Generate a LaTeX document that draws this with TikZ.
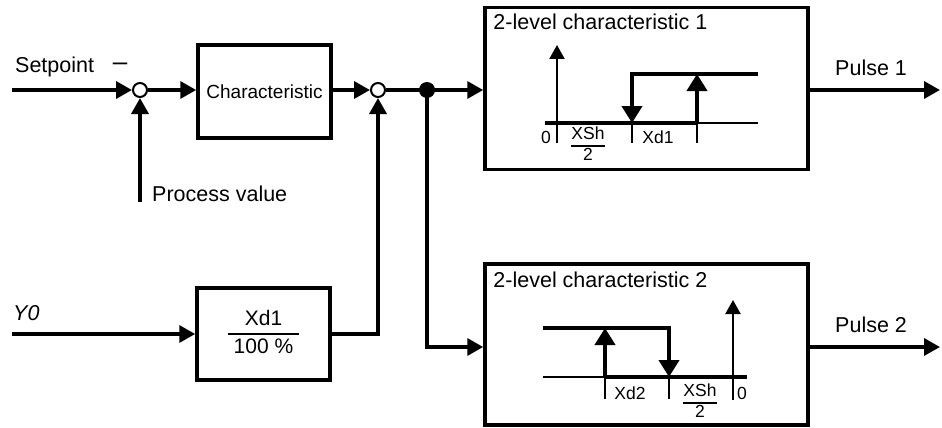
\documentclass[tikz,border=0pt]{standalone}
\usepackage{fontspec}
\setmainfont{Liberation Sans}
\usetikzlibrary{positioning, arrows.meta, calc}
\setlength{\arrayrulewidth}{1.8pt}
\newcommand{\frc}[3][0pt]{\begin{tabular}{@{\hspace{#1}}c@{\hspace{#1}}}#2\\\hline #3\end{tabular}}

\begin{document}
\begin{tikzpicture}[x=1pt, y=-1pt,
    every node/.style={font=\fontsize{21.5}{25}\selectfont, inner sep=0pt},
    blk/.style={draw, line width=3.5pt, minimum width=133pt, minimum height=93pt, align=center, font=\fontsize{19}{23}\selectfont},
    lvl/.style={draw, line width=3.5pt, minimum width=323pt, minimum height=162pt},
    sum/.style={draw, circle, line width=2pt, fill=white, minimum size=14pt},
    dot/.style={circle, fill, minimum size=16pt},
    ttl/.style={anchor=base west, font=\fontsize{21.5}{25}\selectfont},
    lbl/.style={font=\fontsize{17.5}{20}\selectfont},
    ln/.style={line width=3.5pt, -{Triangle[length=16pt, width=17pt]}},
    ax/.style={line width=2.2pt},
    hi/.style={line width=4pt},
    tip/.style={-{Triangle[length=14pt, width=15pt]}},
    bigtip/.style={-{Triangle[length=17pt, width=20pt]}}]
  \useasboundingbox (0,0) rectangle (942,428);

  % inputs and outputs
  \coordinate (sp) at (12,90);
  \coordinate (pv) at (140,202);
  \coordinate (y0) at (12,334);
  \coordinate (p1) at (940,90);
  \coordinate (p2) at (940,347);

  % blocks
  \node[sum] (s1) at (140,90) {};
  \node[blk] (ch) at (264.5,91.5) {Characteristic};
  \node[sum] (s2) at (378,90) {};
  \node[dot] (br) at (427,90) {};
  \node[blk, minimum height=92pt, font=\fontsize{21}{26}\selectfont] (gain) at (263.5,334) {\frc[6pt]{Xd1}{100 \%}};
  \node[lvl] (lv1) at (646.5,88.5) {};
  \node[lvl, minimum height=161pt] (lv2) at (646.5,344.5) {};

  % texts
  \node[anchor=base west] at (15,73) {Setpoint};
  \node[font=\fontsize{26}{26}\selectfont] at (120,67) {--};
  \node[anchor=base west] at (152,201) {Process value};
  \node[anchor=base west, font=\fontsize{21.5}{25}\itshape] at (13,320) {Y0};
  \node[anchor=base west] at (835,75) {Pulse 1};
  \node[anchor=base west] at (835,332) {Pulse 2};
  \node[ttl] at ($(lv1.north west)+(10,24)$) {2-level characteristic 1};
  \node[ttl] at ($(lv2.north west)+(10,25)$) {2-level characteristic 2};

  % connectors
  \draw[ln] (sp) -- (s1.west);
  \draw[ln] (pv) -- (s1.south);
  \draw[ln] (s1.east) -- (s1.east -| ch.west);
  \draw[ln] (s2 -| ch.east) -- (s2.west);
  \draw[ln] (s2.east) -- (s2.east -| lv1.west);
  \draw[ln] (y0) -- (gain.west);
  \draw[ln] (gain.east) -| (s2.south);
  \draw[ln] (br.center) |- (lv2.west |- p2);
  \draw[ln] (lv1.east |- p1) -- (p1);
  \draw[ln] (lv2.east |- p2) -- (p2);

  % characteristic 1
  \draw[ax, tip] (557,143) -- (557,45);
  \draw[ax] (545,123) -- (758,123);
  \draw[hi] (545,123) -- (697,123);
  \draw[hi, bigtip] (758,74) -- (632,74) -- (632,123);
  \draw[hi, bigtip] (697,123) -- (697,74);
  \draw[ax] (632,123) -- (632,143) (697,123) -- (697,143);
  \node[lbl] at (546,137) {0};
  \node[lbl] at (588,146) {\frc{XSh}{2}};
  \node[lbl] at (658,137) {Xd1};

  % characteristic 2
  \draw[ax, tip] (733,400) -- (733,300);
  \draw[ax] (543,377) -- (747,377);
  \draw[hi] (605,377) -- (747,377);
  \draw[hi, bigtip] (543,328) -- (669,328) -- (669,377);
  \draw[hi, bigtip] (605,377) -- (605,328);
  \draw[ax] (605,377) -- (605,399) (669,377) -- (669,399);
  \node[lbl] at (630,393) {Xd2};
  \node[lbl] at (700,403) {\frc{XSh}{2}};
  \node[lbl] at (742,393) {0};
\end{tikzpicture}
\end{document}
